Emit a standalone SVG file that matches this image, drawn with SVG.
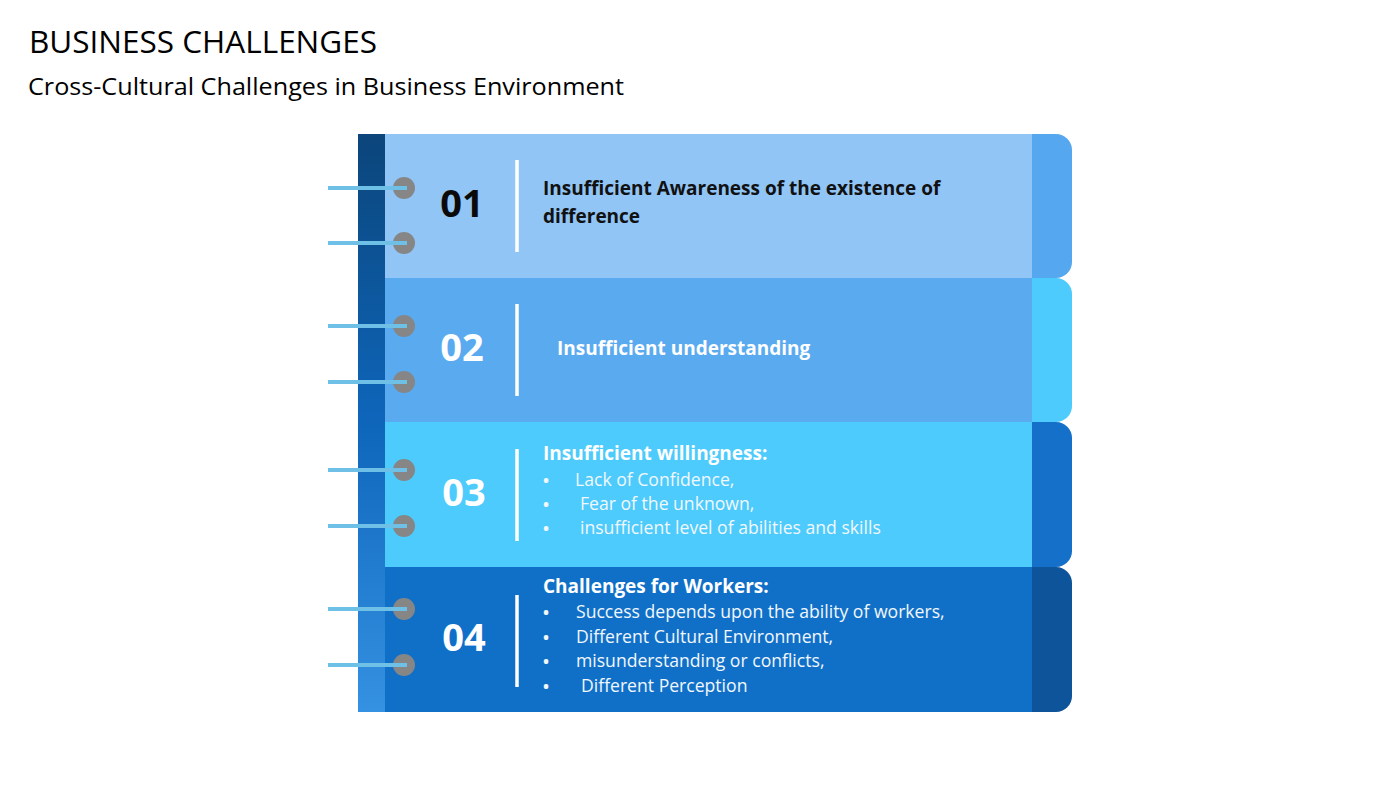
<svg xmlns="http://www.w3.org/2000/svg" width="1400" height="788" viewBox="0 0 1400 788">
<defs>
<linearGradient id="spineGrad" x1="0" y1="0" x2="0" y2="1">
<stop offset="0" stop-color="#0b457a"/>
<stop offset="0.5" stop-color="#0e66bb"/>
<stop offset="1" stop-color="#3591e2"/>
</linearGradient>
<style>
.title{font-family:"Open Sans","Liberation Sans",sans-serif;fill:#000}
.num{font-family:"Open Sans","Liberation Sans",sans-serif;font-weight:bold;font-size:38px;text-anchor:middle}
.hd{font-family:"Open Sans","Liberation Sans",sans-serif;font-weight:bold;font-size:19px}
.it{font-family:"Open Sans","Liberation Sans",sans-serif;font-size:17.6px;fill:#f2f7fc}
.bl{font-family:"Open Sans","Liberation Sans",sans-serif;font-size:16px;font-weight:bold;fill:#f2f7fc}
.pinline{stroke:#6fc0e6;stroke-width:4}
.pin{fill:#868686}
.div{stroke:#fff;stroke-width:3.5}
</style>
</defs>
<rect width="1400" height="788" fill="#fff"/>
<text class="title" x="29" y="53" font-size="31" textLength="348" lengthAdjust="spacingAndGlyphs">BUSINESS CHALLENGES</text>
<text class="title" x="28" y="95" font-size="23" textLength="596" lengthAdjust="spacingAndGlyphs">Cross-Cultural Challenges in Business Environment</text>

<g id="spine"><rect x="358" y="134" width="27" height="578" fill="url(#spineGrad)"/></g>

<g id="node1">
<path d="M1032 134 H1056 A16 16 0 0 1 1072 150 V262 A16 16 0 0 1 1056 278 H1032 Z" fill="#55a8f0"/>
<rect x="385" y="134" width="647" height="144" fill="#90c5f5"/>
<text class="num" x="462" y="217" fill="#0a0a0a">01</text>
<line class="div" x1="517" y1="160" x2="517" y2="252"/>
<text class="hd" x="543" y="195" fill="#111">Insufficient Awareness of the existence of</text>
<text class="hd" x="543" y="223" fill="#111">difference</text>
</g>

<g id="node2">
<path d="M1032 278 H1056 A16 16 0 0 1 1072 294 V406 A16 16 0 0 1 1056 422 H1032 Z" fill="#4dcbfc"/>
<rect x="385" y="278" width="647" height="144" fill="#5aaaf0"/>
<text class="num" x="462" y="361" fill="#fff">02</text>
<line class="div" x1="517" y1="304" x2="517" y2="396"/>
<text class="hd" x="557" y="355" fill="#fff">Insufficient understanding</text>
</g>

<g id="node3">
<path d="M1032 422 H1056 A16 16 0 0 1 1072 438 V551 A16 16 0 0 1 1056 567 H1032 Z" fill="#1470c8"/>
<rect x="385" y="422" width="647" height="145" fill="#4dcbfc"/>
<text class="num" x="464" y="506" fill="#fff">03</text>
<line class="div" x1="517" y1="449" x2="517" y2="541"/>
<text class="hd" x="543" y="460" fill="#fff">Insufficient willingness:</text>
<text class="bl" x="543" y="486">•</text><text class="it" x="575" y="486">Lack of Confidence,</text>
<text class="bl" x="543" y="510">•</text><text class="it" x="580" y="510">Fear of the unknown,</text>
<text class="bl" x="543" y="534">•</text><text class="it" x="580" y="534">insufficient level of abilities and skills</text>
</g>

<g id="node4">
<path d="M1032 567 H1056 A16 16 0 0 1 1072 583 V696 A16 16 0 0 1 1056 712 H1032 Z" fill="#0d549a"/>
<rect x="385" y="567" width="647" height="145" fill="#1070c8"/>
<text class="num" x="464" y="651" fill="#fff">04</text>
<line class="div" x1="517" y1="595" x2="517" y2="687"/>
<text class="hd" x="543" y="593" fill="#fff">Challenges for Workers:</text>
<text class="bl" x="543" y="618">•</text><text class="it" x="576" y="618">Success depends upon the ability of workers,</text>
<text class="bl" x="543" y="643">•</text><text class="it" x="576" y="643">Different Cultural Environment,</text>
<text class="bl" x="543" y="667">•</text><text class="it" x="576" y="667">misunderstanding or conflicts,</text>
<text class="bl" x="543" y="692">•</text><text class="it" x="581" y="692">Different Perception</text>
</g>

<g id="connectors">
<g>
<circle class="pin" cx="404" cy="188" r="11"/><circle class="pin" cx="404" cy="243" r="11"/>
<circle class="pin" cx="404" cy="326" r="11"/><circle class="pin" cx="404" cy="382" r="11"/>
<circle class="pin" cx="404" cy="470" r="11"/><circle class="pin" cx="404" cy="526" r="11"/>
<circle class="pin" cx="404" cy="609" r="11"/><circle class="pin" cx="404" cy="665" r="11"/>
</g>
<line class="pinline" x1="328" y1="188" x2="407" y2="188"/>
<line class="pinline" x1="328" y1="243" x2="407" y2="243"/>
<line class="pinline" x1="328" y1="326" x2="407" y2="326"/>
<line class="pinline" x1="328" y1="382" x2="407" y2="382"/>
<line class="pinline" x1="328" y1="470" x2="407" y2="470"/>
<line class="pinline" x1="328" y1="526" x2="407" y2="526"/>
<line class="pinline" x1="328" y1="609" x2="407" y2="609"/>
<line class="pinline" x1="328" y1="665" x2="407" y2="665"/>
</g>
</svg>
